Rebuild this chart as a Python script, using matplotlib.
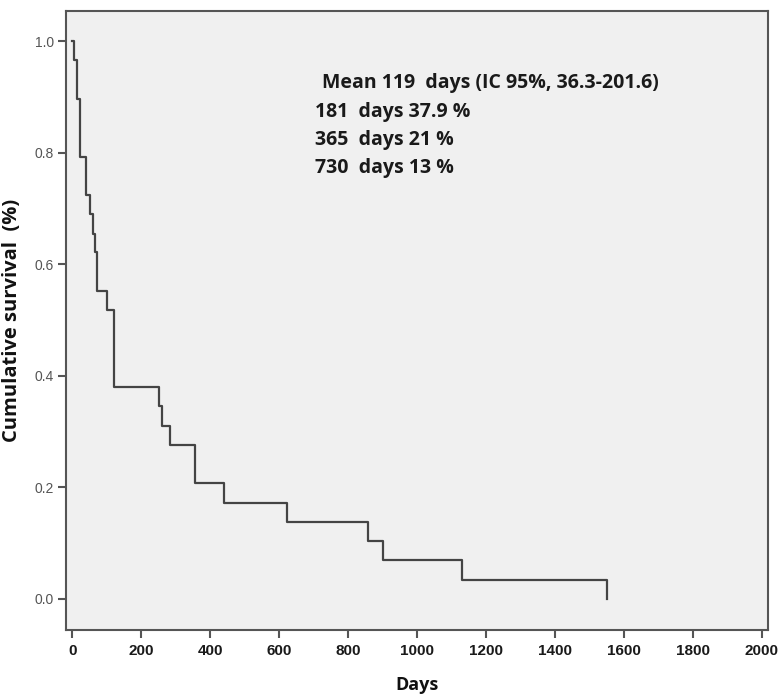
import matplotlib.pyplot as plt

# Kaplan-Meier estimate
days = [0, 5, 13, 22, 40, 51, 61, 66, 73, 102, 122, 252, 259, 283, 356,
        440, 623, 859, 901, 1130, 1550]
survival = [1.0, 0.966, 0.897, 0.793, 0.724, 0.690, 0.655, 0.621, 0.552,
            0.517, 0.379, 0.345, 0.310, 0.276, 0.207, 0.172, 0.138, 0.103,
            0.069, 0.034, 0.0]

x_ticks = [0, 200, 400, 600, 800, 1000, 1200, 1400, 1600, 1800, 2000]
y_ticks = [0.0, 0.2, 0.4, 0.6, 0.8, 1.0]

notes = ["Mean 119  days (IC 95%, 36.3-201.6)",
         "181  days 37.9 %",
         "365  days 21 %",
         "730  days 13 %"]

fig = plt.figure(figsize=(7.8, 6.99), dpi=100)
ax = fig.add_axes([66 / 780, 1 - 630 / 699, 702 / 780, 619 / 699])
ax.set_facecolor('#f0f0f0')

ax.step(days, survival, where='post', color='#444444', lw=1.6)

ax.set_xlim(-18, 2018)
ax.set_ylim(-0.056, 1.054)
ax.set_xticks(x_ticks)
ax.set_yticks(y_ticks)
ax.set_xticklabels([str(t) for t in x_ticks], family='Liberation Sans',
                   fontweight='bold', fontsize=11, color='#1a1a1a')
ax.set_yticklabels([f'{t:.1f}' for t in y_ticks], family='Liberation Sans',
                   fontsize=10, color='#555555')
ax.tick_params(axis='both', length=6, width=1.5, color='#555555',
               direction='out', pad=2.5)
ax.tick_params(axis='x', pad=4)

for s in ax.spines.values():
    s.set_color('#555555')
    s.set_linewidth(1.5)

ax.set_xlabel('Days', family='Open Sans', fontweight='bold', fontsize=13,
              color='#111111')
ax.xaxis.set_label_coords(0.5, -0.074)
ax.set_ylabel('Cumulative survival  (%)', family='Open Sans',
              fontweight='bold', fontsize=14.5, color='#111111')
ax.yaxis.set_label_coords(-0.062, 0.5)

note_pos = [(0.365, 0.884), (0.355, 0.837), (0.355, 0.792), (0.355, 0.747)]
for txt, (nx, ny) in zip(notes, note_pos):
    ax.text(nx, ny, txt, transform=ax.transAxes, family='Open Sans',
            fontweight='bold', fontsize=14, color='#1a1a1a', va='center',
            ha='left')

fig.savefig('out.png', dpi=100)
